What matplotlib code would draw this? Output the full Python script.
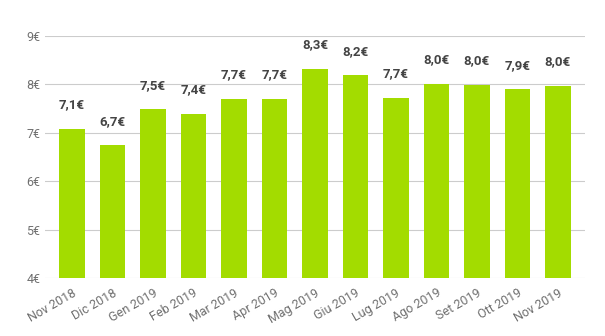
import matplotlib.pyplot as plt
import numpy as np

months = ["Nov 2018", "Dic 2018", "Gen 2019", "Feb 2019", "Mar 2019", "Apr 2019", "Mag 2019",
          "Giu 2019", "Lug 2019", "Ago 2019", "Set 2019", "Ott 2019", "Nov 2019"]
prices = [7.08, 6.74, 7.49, 7.39, 7.70, 7.70, 8.32, 8.19, 7.72, 8.01, 7.99, 7.90, 7.97]
y_ticks = [4, 5, 6, 7, 8, 9]

plt.rcParams['font.family'] = ['Roboto', 'DejaVu Sans']

fig = plt.figure(figsize=(6.05, 3.36), dpi=100)
ax = fig.add_axes([45/605, 1-278/336, 540/605, 242/336])

x = np.arange(len(months))
ax.bar(x, prices, width=0.64, color="#a3dc00", zorder=2)

for xi, p in zip(x, prices):
	label = ("%.1f€" % p).replace(".", ",")
	ax.annotate(label, (xi, p), xytext=(0, 12.5), textcoords="offset points",
				ha="center", va="bottom", fontsize=9.5, fontweight="bold", color="#444444")

ax.set_ylim(4, 9)
ax.set_xlim(-0.667, len(months) - 0.333)
ax.set_yticks(y_ticks)
ax.set_yticklabels(["%d€" % t for t in y_ticks])
ax.set_xticks(x)
ax.set_xticklabels(months, rotation=30, ha="right", rotation_mode="anchor")
ax.tick_params(length=0, labelsize=9, colors="#707070")
ax.tick_params(axis="x", pad=6)
ax.grid(axis="y", color="#cccccc", linewidth=0.8, zorder=0)
for s in ax.spines.values():
	s.set_visible(False)

fig.savefig("out.png", dpi=100)
